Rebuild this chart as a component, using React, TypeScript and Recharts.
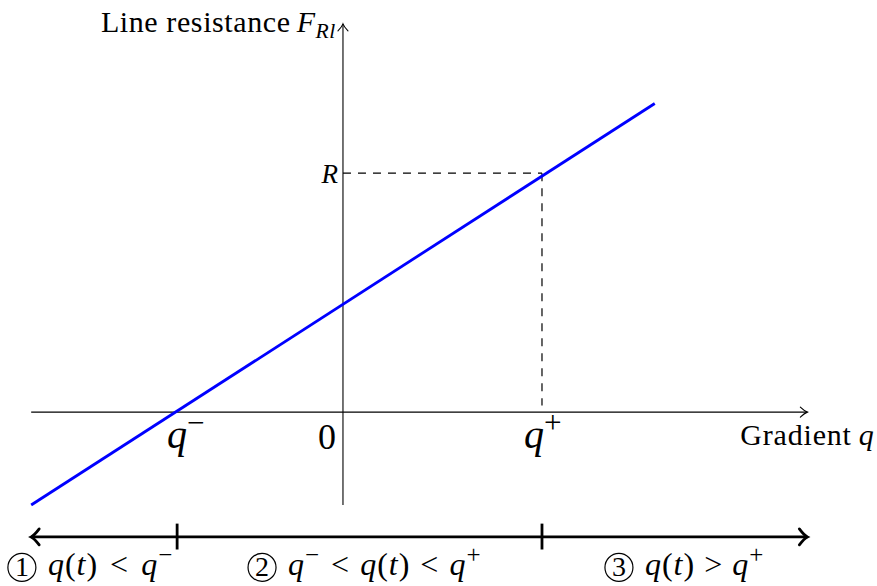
import React from "react";
import {
  ComposedChart,
  Line,
  XAxis,
  YAxis,
  ReferenceLine,
  ReferenceDot,
} from "recharts";

// blue line: resistance vs gradient (two end points)
const lineQ = [-4.7, 4.7];
const lineF = [-1.4, 4.65];

// key values on the axes
const qMinus = -2.5;
const qPlus = 3.0;
const rValue = 3.6;

// axis extents
const xAxisEnds = [-4.7, 7.0];
const yAxisEnds = [-1.4, 5.85];

// region strip below the chart
const regionY = -1.88;
const regionTickTop = -1.68;
const regionTickBottom = -2.07;
const regionLabelY = -2.46;
const regionCircleQ = [-4.84, -1.22, 4.16];
const regionNumbers = ["1", "2", "3"];

const xDomain = [-5.17, 8.05];
const yDomain = [-2.62, 6.21];

const SERIF = "Liberation Serif";

type Part = { t: string; it?: boolean; sup?: boolean; sub?: boolean; dx?: number };

const regionParts: Part[][] = [
  [
    { t: "q", it: true },
    { t: "(", dx: 1 },
    { t: "t", it: true, dx: 1 },
    { t: ")", dx: 1 },
    { t: "<", dx: 13 },
    { t: "q", it: true, dx: 13 },
    { t: "\u2212", sup: true, dx: 1 },
  ],
  [
    { t: "q", it: true },
    { t: "\u2212", sup: true, dx: 1 },
    { t: "<", dx: 12 },
    { t: "q", it: true, dx: 11 },
    { t: "(", dx: 1 },
    { t: "t", it: true, dx: 1 },
    { t: ")", dx: 1 },
    { t: "<", dx: 11 },
    { t: "q", it: true, dx: 11 },
    { t: "+", sup: true, dx: 1 },
  ],
  [
    { t: "q", it: true },
    { t: "(", dx: 1 },
    { t: "t", it: true, dx: 1 },
    { t: ")", dx: 1 },
    { t: ">", dx: 10 },
    { t: "q", it: true, dx: 10 },
    { t: "+", sup: true, dx: 1 },
  ],
];

const lineData = lineQ.map((q, i) => ({ q, f: lineF[i] }));

const MathText = (props: {
  x: number;
  y: number;
  size: number;
  parts: Part[];
  anchor?: "start" | "middle" | "end";
  spacing?: number;
}) => {
  const { x, y, size, parts, anchor = "start", spacing = 0 } = props;
  let shift = 0;
  return (
    <text
      x={x}
      y={y}
      textAnchor={anchor}
      fill="#000"
      fontFamily={SERIF}
      fontSize={size}
      letterSpacing={spacing}
    >
      {parts.map((p, i) => {
        const target = p.sup ? -size * 0.38 : p.sub ? size * 0.22 : 0;
        const dy = target - shift;
        shift = target;
        return (
          <tspan
            key={i}
            dx={p.dx}
            dy={dy || undefined}
            fontFamily={SERIF}
            fontStyle={p.it ? "italic" : "normal"}
            fontSize={p.sup ? size * 0.78 : p.sub ? size * 0.72 : size}
          >
            {p.t}
          </tspan>
        );
      })}
    </text>
  );
};

const arrowPath = (x: number, y: number, dx: number, dy: number, len: number, half: number) => {
  const n = Math.hypot(dx, dy) || 1;
  const ux = dx / n;
  const uy = dy / n;
  const px = -uy;
  const py = ux;
  const bx = x - ux * len;
  const by = y - uy * len;
  const cx = x - ux * len * 0.4;
  const cy = y - uy * len * 0.4;
  return `M${bx + px * half},${by + py * half} Q${cx + px * half * 0.2},${cy + py * half * 0.2} ${x},${y} Q${cx - px * half * 0.2},${cy - py * half * 0.2} ${bx - px * half},${by - py * half}`;
};

const arrowShape = (both: boolean, width: number, len: number, half: number) => (props: any) => {
  const { x1, y1, x2, y2 } = props;
  return (
    <g>
      <line x1={x1} y1={y1} x2={x2} y2={y2} stroke="#000" strokeWidth={width} />
      <path d={arrowPath(x2, y2, x2 - x1, y2 - y1, len, half)} fill="none" stroke="#000" strokeWidth={width} strokeLinecap="round" />
      {both && (
        <path d={arrowPath(x1, y1, x1 - x2, y1 - y2, len, half)} fill="none" stroke="#000" strokeWidth={width} strokeLinecap="round" />
      )}
    </g>
  );
};

const textAt = (
  parts: Part[],
  size: number,
  ox: number,
  oy: number,
  anchor: "start" | "middle" | "end" = "start",
  spacing = 0
) =>
  (props: any) => (
    <MathText x={props.cx + ox} y={props.cy + oy} size={size} parts={parts} anchor={anchor} spacing={spacing} />
  );

const regionShape = (num: string, parts: Part[]) => (props: any) => {
  const { cx, cy } = props;
  return (
    <g>
      <circle cx={cx} cy={cy - 8} r={14} fill="none" stroke="#000" strokeWidth={1.2} />
      <text x={cx} y={cy + 1} textAnchor="middle" fill="#000" fontFamily={SERIF} fontSize={28}>
        {num}
      </text>
      <MathText x={cx + 26} y={cy} size={32} parts={parts} />
    </g>
  );
};

const App = () => {
  return (
    <div style={{ position: "absolute", left: 0, top: 0, background: "#fff" }}>
      <ComposedChart width={877} height={586} margin={{ top: 0, right: 0, bottom: 0, left: 0 }}>
        <XAxis type="number" dataKey="q" domain={xDomain} allowDataOverflow hide />
        <YAxis type="number" domain={yDomain} allowDataOverflow hide />

        {/* axes */}
        <ReferenceLine
          segment={[{ x: xAxisEnds[0], y: 0 }, { x: xAxisEnds[1], y: 0 }]}
          shape={arrowShape(false, 1.1, 7, 5)}
        />
        <ReferenceLine
          segment={[{ x: 0, y: yAxisEnds[0] }, { x: 0, y: yAxisEnds[1] }]}
          shape={arrowShape(false, 1.1, 7, 5)}
        />

        {/* dashed guides to R and q+ */}
        <ReferenceLine
          segment={[{ x: 0, y: rValue }, { x: qPlus, y: rValue }]}
          stroke="#000"
          strokeWidth={1.2}
          strokeDasharray="8 7"
        />
        <ReferenceLine
          segment={[{ x: qPlus, y: rValue }, { x: qPlus, y: 0.1 }]}
          stroke="#000"
          strokeWidth={1.2}
          strokeDasharray="8 7"
        />

        <Line
          data={lineData}
          dataKey="f"
          type="linear"
          stroke="#0000ff"
          strokeWidth={2.8}
          dot={false}
          activeDot={false}
          isAnimationActive={false}
        />

        {/* region strip */}
        <ReferenceLine
          segment={[{ x: xAxisEnds[0], y: regionY }, { x: xAxisEnds[1], y: regionY }]}
          shape={arrowShape(true, 2.8, 8, 8)}
        />
        {[qMinus, qPlus].map((q) => (
          <ReferenceLine
            key={q}
            segment={[{ x: q, y: regionTickTop }, { x: q, y: regionTickBottom }]}
            stroke="#000"
            strokeWidth={2.8}
          />
        ))}
        {regionCircleQ.map((q, i) => (
          <ReferenceDot
            key={i}
            x={q}
            y={regionLabelY}
            r={1}
            shape={regionShape(regionNumbers[i], regionParts[i])}
          />
        ))}

        {/* axis labels */}
        <ReferenceDot
          x={0}
          y={yAxisEnds[1]}
          r={1}
          shape={textAt(
            [
              { t: "Line resistance" },
              { t: "F", it: true, dx: 6 },
              { t: "Rl", it: true, sub: true },
            ],
            30,
            -7,
            8,
            "end",
            0.6
          )}
        />
        <ReferenceDot
          x={xAxisEnds[1]}
          y={0}
          r={1}
          shape={textAt([{ t: "Gradient" }, { t: "q", it: true, dx: 7 }], 30, -67, 33, "start", 0.8)}
        />
        <ReferenceDot x={0} y={rValue} r={1} shape={textAt([{ t: "R", it: true }], 27, -5, 10, "end")} />
        <ReferenceDot
          x={qMinus}
          y={0}
          r={1}
          shape={textAt([{ t: "q", it: true }, { t: "\u2212", sup: true }], 40, -10, 36)}
        />
        <ReferenceDot x={0} y={0} r={1} shape={textAt([{ t: "0" }], 36, -7, 37, "end")} />
        <ReferenceDot
          x={qPlus}
          y={0}
          r={1}
          shape={textAt([{ t: "q", it: true }, { t: "+", sup: true }], 40, -18, 36)}
        />
      </ComposedChart>
    </div>
  );
};

export default App;
